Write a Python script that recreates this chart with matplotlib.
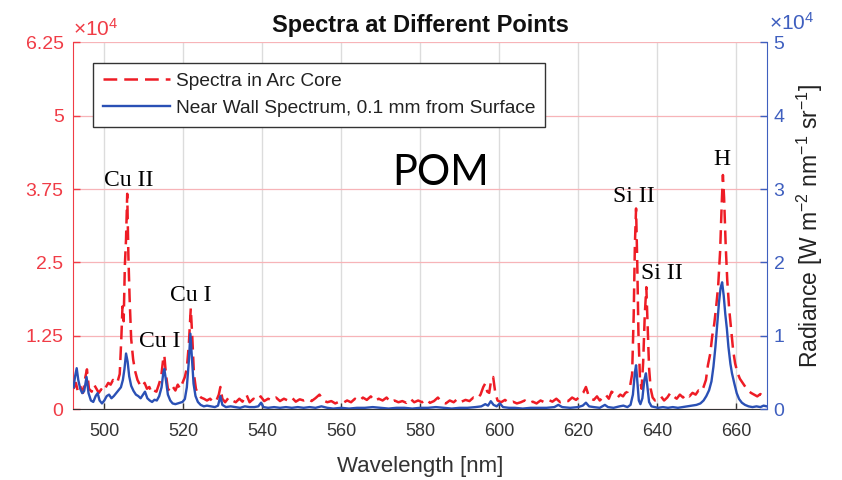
import matplotlib
matplotlib.use("Agg")
import matplotlib.pyplot as plt
from matplotlib.ticker import FixedLocator, FuncFormatter

plt.rcParams['font.family'] = ['Liberation Sans', 'DejaVu Sans']
plt.rcParams['mathtext.fontset'] = 'custom'
plt.rcParams['mathtext.rm'] = 'Liberation Sans'
plt.rcParams['mathtext.it'] = 'Liberation Sans:italic'

# radiance values in units of 1e4 W m^-2 nm^-1 sr^-1
core_wl = [492.2, 492.8, 493.3, 494.0, 494.6, 495.2, 495.6, 496.1, 496.8, 497.4,
           498.0, 498.6, 499.2, 499.8, 500.4, 501.0, 501.6, 502.2, 502.8, 503.4,
           503.9, 504.3, 504.6, 504.9, 505.2, 505.5, 505.8, 506.1, 506.4, 506.8,
           507.3, 507.8, 508.4, 509.0, 509.6, 510.2, 510.8, 511.4, 512.0, 512.6,
           513.2, 513.8, 514.4, 514.9, 515.2, 515.6, 516.1, 516.8, 517.4, 518.0,
           518.6, 519.2, 519.8, 520.4, 520.9, 521.4, 521.9, 522.3, 522.7, 523.2,
           523.8, 524.5, 525.2, 526.0, 526.8, 527.6, 528.4, 529.0, 529.4, 529.9,
           530.6, 531.5, 532.4, 533.3, 534.2, 535.0, 536.0, 536.8, 537.8, 538.8,
           539.6, 540.5, 541.5, 542.5, 543.5, 544.5, 545.5, 546.5, 547.5, 548.5,
           549.5, 550.5, 551.5, 552.5, 553.5, 554.5, 555.5, 556.5, 557.5, 558.5,
           559.5, 560.5, 561.5, 562.5, 563.5, 564.5, 565.5, 566.5, 567.5, 568.5,
           569.5, 570.5, 571.5, 572.5, 573.5, 574.5, 575.5, 576.5, 577.5, 578.5,
           579.5, 580.5, 581.5, 582.5, 583.5, 584.5, 585.5, 586.5, 587.5, 588.5,
           589.5, 590.5, 591.5, 592.5, 593.5, 594.5, 595.3, 596.0, 596.5, 597.0,
           597.5, 598.0, 598.5, 599.0, 599.6, 600.5, 601.5, 602.5, 603.5, 604.5,
           605.5, 606.5, 607.5, 608.5, 609.5, 610.5, 611.5, 612.5, 613.5, 614.5,
           615.5, 616.5, 617.5, 618.5, 619.5, 620.5, 621.3, 622.0, 622.6, 623.3,
           624.0, 624.8, 625.5, 626.3, 627.0, 627.8, 628.5, 629.3, 630.0, 630.7,
           631.4, 632.0, 632.6, 633.2, 633.7, 634.1, 634.4, 634.7, 635.0, 635.3,
           635.7, 636.1, 636.5, 636.9, 637.3, 637.6, 638.0, 638.4, 638.9, 639.5,
           640.2, 641.0, 641.8, 642.6, 643.4, 644.2, 645.0, 645.8, 646.6, 647.4,
           648.2, 649.0, 649.8, 650.5, 651.2, 651.8, 652.4, 652.9, 653.5, 654.0,
           654.5, 655.0, 655.5, 656.0, 656.4, 656.7, 657.0, 657.4, 657.8, 658.3,
           658.8, 659.3, 659.8, 660.4, 661.0, 661.7, 662.4, 663.1, 663.8, 664.6,
           665.4, 666.2, 667.0, 667.8]
core_val = [0.35, 0.45, 0.30, 0.38, 0.28, 0.55, 0.68, 0.35, 0.30, 0.42,
            0.35, 0.28, 0.34, 0.30, 0.38, 0.45, 0.42, 0.50, 0.45, 0.48,
            0.60, 1.20, 1.75, 1.50, 2.45, 2.90, 3.67, 2.60, 1.90, 1.20,
            0.85, 0.65, 0.50, 0.42, 0.38, 0.45, 0.35, 0.38, 0.28, 0.32,
            0.30, 0.42, 0.55, 0.85, 0.92, 0.60, 0.35, 0.30, 0.38, 0.32,
            0.42, 0.35, 0.45, 0.55, 0.70, 1.10, 1.72, 1.20, 0.60, 0.35,
            0.25, 0.20, 0.18, 0.15, 0.18, 0.12, 0.15, 0.25, 0.38, 0.18,
            0.12, 0.20, 0.15, 0.12, 0.18, 0.13, 0.25, 0.12, 0.18, 0.15,
            0.22, 0.14, 0.18, 0.15, 0.20, 0.14, 0.18, 0.15, 0.20, 0.13,
            0.17, 0.15, 0.18, 0.14, 0.19, 0.25, 0.15, 0.12, 0.14, 0.10,
            0.13, 0.11, 0.15, 0.12, 0.18, 0.14, 0.20, 0.16, 0.22, 0.14,
            0.18, 0.15, 0.20, 0.12, 0.15, 0.12, 0.14, 0.11, 0.18, 0.12,
            0.15, 0.12, 0.17, 0.11, 0.14, 0.20, 0.12, 0.10, 0.15, 0.12,
            0.18, 0.13, 0.16, 0.14, 0.20, 0.18, 0.25, 0.38, 0.44, 0.30,
            0.28, 0.50, 0.55, 0.30, 0.15, 0.12, 0.16, 0.11, 0.13, 0.10,
            0.12, 0.15, 0.10, 0.13, 0.10, 0.15, 0.12, 0.16, 0.13, 0.18,
            0.12, 0.15, 0.14, 0.20, 0.16, 0.22, 0.28, 0.38, 0.25, 0.18,
            0.16, 0.22, 0.15, 0.20, 0.25, 0.18, 0.30, 0.26, 0.20, 0.25,
            0.22, 0.28, 0.30, 0.40, 0.60, 1.60, 2.80, 3.42, 2.50, 1.30,
            0.50, 0.35, 0.80, 1.60, 2.08, 1.50, 0.70, 0.35, 0.20, 0.15,
            0.18, 0.22, 0.15, 0.20, 0.28, 0.22, 0.18, 0.25, 0.20, 0.26,
            0.22, 0.28, 0.25, 0.32, 0.30, 0.38, 0.50, 0.75, 0.95, 1.25,
            1.45, 1.75, 2.10, 2.70, 3.50, 3.99, 3.60, 2.80, 2.20, 1.70,
            1.35, 1.00, 0.78, 0.62, 0.52, 0.45, 0.38, 0.32, 0.28, 0.25,
            0.22, 0.26, 0.20, 0.22]

wall_wl = [492.2, 492.6, 493.0, 493.4, 493.9, 494.4, 494.9, 495.5, 496.0, 496.6,
           497.2, 497.8, 498.3, 498.8, 499.4, 500.0, 500.6, 501.2, 501.8, 502.4,
           503.0, 503.6, 504.2, 504.7, 505.1, 505.5, 505.9, 506.3, 506.8, 507.4,
           508.0, 508.6, 509.2, 509.8, 510.3, 510.9, 511.5, 512.1, 512.7, 513.3,
           513.9, 514.5, 514.9, 515.2, 515.6, 516.1, 516.7, 517.3, 518.0, 518.6,
           519.2, 519.8, 520.4, 520.9, 521.4, 521.8, 522.2, 522.6, 523.1, 523.7,
           524.4, 525.2, 526.0, 527.0, 528.0, 528.8, 529.4, 529.9, 530.8, 532.0,
           533.2, 534.4, 535.6, 536.8, 538.0, 539.0, 539.7, 540.3, 541.5, 543.0,
           544.5, 546.0, 547.5, 549.0, 550.5, 552.0, 553.5, 555.0, 556.5, 558.0,
           560.0, 562.0, 564.0, 566.0, 568.0, 570.0, 572.0, 574.0, 576.0, 578.0,
           580.0, 582.0, 584.0, 586.0, 588.0, 590.0, 592.0, 594.0, 595.5, 596.5,
           597.2, 597.9, 598.6, 599.4, 600.2, 601.0, 602.5, 604.0, 606.0, 608.0,
           610.0, 612.0, 614.0, 615.0, 616.0, 618.0, 620.0, 621.2, 622.0, 622.8,
           624.0, 625.5, 626.8, 627.6, 629.0, 630.5, 631.5, 632.5, 633.3, 633.9,
           634.4, 634.7, 635.0, 635.4, 635.8, 636.3, 636.8, 637.2, 637.6, 638.0,
           638.6, 639.4, 640.3, 641.5, 642.8, 644.0, 645.3, 646.5, 647.8, 649.0,
           650.0, 651.0, 651.8, 652.5, 653.2, 653.8, 654.3, 654.8, 655.2, 655.7,
           656.1, 656.5, 656.9, 657.3, 657.7, 658.1, 658.6, 659.0, 659.6, 660.2,
           660.8, 661.5, 662.3, 663.2, 664.2, 665.2, 666.2, 667.0, 667.8]
wall_val = [0.30, 0.45, 0.56, 0.40, 0.28, 0.22, 0.25, 0.44, 0.22, 0.12,
            0.10, 0.18, 0.22, 0.12, 0.08, 0.12, 0.18, 0.20, 0.15, 0.18,
            0.22, 0.26, 0.30, 0.40, 0.55, 0.76, 0.65, 0.45, 0.32, 0.25,
            0.20, 0.18, 0.15, 0.20, 0.24, 0.15, 0.12, 0.10, 0.13, 0.12,
            0.18, 0.30, 0.48, 0.55, 0.40, 0.20, 0.12, 0.08, 0.07, 0.08,
            0.09, 0.10, 0.14, 0.30, 0.65, 1.03, 0.70, 0.35, 0.18, 0.10,
            0.06, 0.04, 0.05, 0.04, 0.03, 0.05, 0.18, 0.06, 0.03, 0.04,
            0.03, 0.02, 0.04, 0.03, 0.03, 0.04, 0.09, 0.03, 0.02, 0.03,
            0.02, 0.03, 0.02, 0.03, 0.02, 0.03, 0.02, 0.04, 0.02, 0.01,
            0.02, 0.01, 0.02, 0.02, 0.03, 0.02, 0.01, 0.02, 0.02, 0.01,
            0.02, 0.02, 0.03, 0.02, 0.01, 0.02, 0.02, 0.03, 0.04, 0.07,
            0.05, 0.11, 0.06, 0.04, 0.08, 0.03, 0.02, 0.02, 0.01, 0.02,
            0.02, 0.02, 0.03, 0.06, 0.03, 0.02, 0.03, 0.05, 0.09, 0.04,
            0.03, 0.02, 0.06, 0.03, 0.02, 0.04, 0.05, 0.03, 0.06, 0.20,
            0.50, 0.60, 0.40, 0.12, 0.07, 0.15, 0.40, 0.49, 0.30, 0.10,
            0.04, 0.03, 0.02, 0.03, 0.02, 0.03, 0.02, 0.03, 0.04, 0.05,
            0.06, 0.08, 0.12, 0.18, 0.26, 0.38, 0.58, 0.85, 1.12, 1.45,
            1.65, 1.73, 1.55, 1.30, 1.10, 0.85, 0.62, 0.49, 0.35, 0.22,
            0.14, 0.09, 0.06, 0.04, 0.03, 0.04, 0.03, 0.05, 0.04]

left_ticks = [0, 1.25, 2.5, 3.75, 5, 6.25]
right_ticks = [0, 1, 2, 3, 4, 5]
x_ticks = [500, 520, 540, 560, 580, 600, 620, 640, 660]

# line labels: (text, wavelength, left-axis value) -> centre of the label
peak_labels = [("Cu II", 506.3, 3.89),
               ("Cu I", 514.1, 1.16),
               ("Cu I", 522.0, 1.93),
               ("Si II", 634.2, 3.63),
               ("Si II", 641.2, 2.32),
               ("H", 656.4, 4.25)]

red = '#ee1c25'
red_axis = '#f03c46'
blue = '#2a50b5'
blue_axis = '#3f5fbf'

fig = plt.figure(figsize=(8.42, 4.8), dpi=100)
ax = fig.add_axes([0.0871, 0.1473, 0.8235, 0.7646])
ax2 = ax.twinx()

l1, = ax.plot(core_wl, core_val, color=red, lw=1.8, ls=(0, (5.5, 2.8)),
              label='Spectra in Arc Core')
l2, = ax2.plot(wall_wl, wall_val, color=blue, lw=1.7,
               label='Near Wall Spectrum, 0.1 mm from Surface')

ax.set_xlim(492.15, 667.8)
ax.set_ylim(0, 6.25)
ax2.set_ylim(0, 5)

ax.xaxis.set_major_locator(FixedLocator(x_ticks))
ax.yaxis.set_major_locator(FixedLocator(left_ticks))
ax2.yaxis.set_major_locator(FixedLocator(right_ticks))
ax.yaxis.set_major_formatter(FuncFormatter(lambda v, p: '%g' % v))
ax2.yaxis.set_major_formatter(FuncFormatter(lambda v, p: '%g' % v))

ax.grid(axis='y', color='#f7b4b8', lw=0.9)
ax.grid(axis='x', color='#dcdcdc', lw=1.0)
ax.set_axisbelow(True)

ax.tick_params(axis='x', direction='in', length=4, width=1, color='#333333',
               labelsize=13, labelcolor='#333333', pad=10, top=False)
ax.tick_params(axis='y', direction='in', length=5, width=1, color=red_axis,
               labelsize=14, labelcolor=red_axis, pad=7)
ax2.tick_params(axis='y', direction='in', length=5, width=1, color=blue_axis,
                labelsize=14, labelcolor=blue_axis, pad=5)

for a in (ax, ax2):
    a.spines['top'].set_visible(False)
ax.spines['right'].set_visible(False)
ax2.spines['left'].set_visible(False)
ax2.spines['bottom'].set_visible(False)
ax.spines['left'].set_color(red_axis)
ax2.spines['right'].set_color(blue_axis)
ax.spines['bottom'].set_color('#333333')

ax.set_title('Spectra at Different Points', fontsize=17, fontweight='bold',
             pad=7.5, color='#111111')
ax.set_xlabel('Wavelength [nm]', fontsize=16, color='#333333')
ax.xaxis.set_label_coords(0.5, -0.128)
ax.xaxis.label.set_va('top')
ax2.set_ylabel(r'Radiance [W m$^{-2}$ nm$^{-1}$ sr$^{-1}$]', fontsize=16.5,
               color='#222222')
ax2.yaxis.set_label_coords(1.041, 0.5)

ax.text(0.0, 1.008, r'$\times10^{4}$', transform=ax.transAxes,
        color=red_axis, fontsize=15, ha='left', va='bottom')
ax2.text(1.004, 1.022, r'$\times10^{4}$', transform=ax2.transAxes,
         color=blue_axis, fontsize=15, ha='left', va='bottom')

for txt, wl, val in peak_labels:
    ax.text(wl, val, txt, fontsize=17, family='Liberation Serif',
            ha='center', va='center', color='black')

ax.text(0.53, 0.645, 'POM', transform=ax.transAxes, fontsize=30,
        family='Lato', ha='center', va='center', color='black')

leg = ax2.legend(handles=[l1, l2], loc='upper left',
                 bbox_to_anchor=(0.0288, 0.943), borderaxespad=0,
                 fontsize=13.8, handlelength=3.5, handletextpad=0.3,
                 labelspacing=0.5, borderpad=0.5, fancybox=False,
                 framealpha=1, edgecolor='#333333')
leg.get_frame().set_linewidth(1.0)
for t in leg.get_texts():
    t.set_color('#222222')

fig.savefig('out.png', dpi=100)
